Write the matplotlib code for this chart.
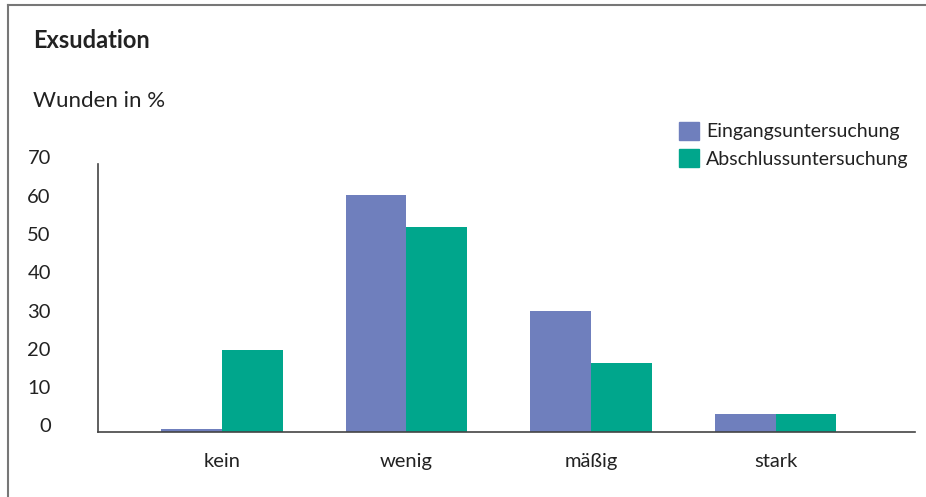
import numpy as np
import matplotlib.pyplot as plt
import matplotlib.transforms as mtransforms
from matplotlib.lines import Line2D
from matplotlib.patches import Patch

plt.rcParams['font.family'] = ['Lato', 'DejaVu Sans']

categories = ['kein', 'wenig', 'mäßig', 'stark']
eingang = [0.8, 62.0, 31.5, 4.7]
abschluss = [21.5, 53.5, 18.0, 4.7]
series_names = ['Eingangsuntersuchung', 'Abschlussuntersuchung']
yticks = [0, 10, 20, 30, 40, 50, 60, 70]

c_blue = '#6f7fbd'
c_green = '#00a68c'
c_text = '#222222'

fig = plt.figure(figsize=(9.26, 4.97), dpi=100)
W, H = 926, 497
ax = fig.add_axes([98 / W, 1 - 432 / H, (915 - 98) / W, (432 - 164) / H])

x = np.arange(len(categories))
w = 0.33
ax.bar(x - w / 2, eingang, w, color=c_blue, label=series_names[0])
ax.bar(x + w / 2, abschluss, w, color=c_green, label=series_names[1])

ax.set_xlim(-0.672, 3.756)
ax.set_ylim(0, 70)
ax.set_xticks(x)
ax.set_xticklabels(categories, fontsize=14.5, color=c_text)
ax.set_yticks(yticks)
ax.set_yticklabels([str(v) for v in yticks], fontsize=14.5, color=c_text)
ax.tick_params(axis='both', length=0)
ax.tick_params(axis='x', pad=15)
ax.tick_params(axis='y', pad=34)
up = mtransforms.ScaledTranslation(0, 5 / 100, fig.dpi_scale_trans)
for lab in ax.get_yticklabels():
    lab.set_verticalalignment('center')
    lab.set_transform(lab.get_transform() + up)
for s in ['top', 'right']:
    ax.spines[s].set_visible(False)
for s in ['left', 'bottom']:
    ax.spines[s].set_color('#444444')
    ax.spines[s].set_linewidth(1.2)

# frame of the figure (top and left only)
fig.add_artist(Line2D([8 / W, 1], [1 - 5 / H, 1 - 5 / H], color='#777777', lw=1.5))
fig.add_artist(Line2D([8 / W, 8 / W], [0, 1 - 5 / H], color='#777777', lw=1.5))

fig.text(33 / W, 1 - 40 / H, 'Exsudation', fontsize=17, fontweight='bold',
         color=c_text, va='center', ha='left')
fig.text(33 / W, 1 - 101 / H, 'Wunden in %', fontsize=16,
         color=c_text, va='center', ha='left')

handles = [Patch(color=c_blue), Patch(color=c_green)]
fig.legend(handles, series_names, loc='upper left',
           bbox_to_anchor=(671 / W, 1 - 114 / H), frameon=False,
           fontsize=14, handlelength=1.05, handleheight=1.05,
           handletextpad=0.35, labelspacing=0.45, borderaxespad=0,
           labelcolor=c_text)

fig.savefig('out.png', dpi=100)
